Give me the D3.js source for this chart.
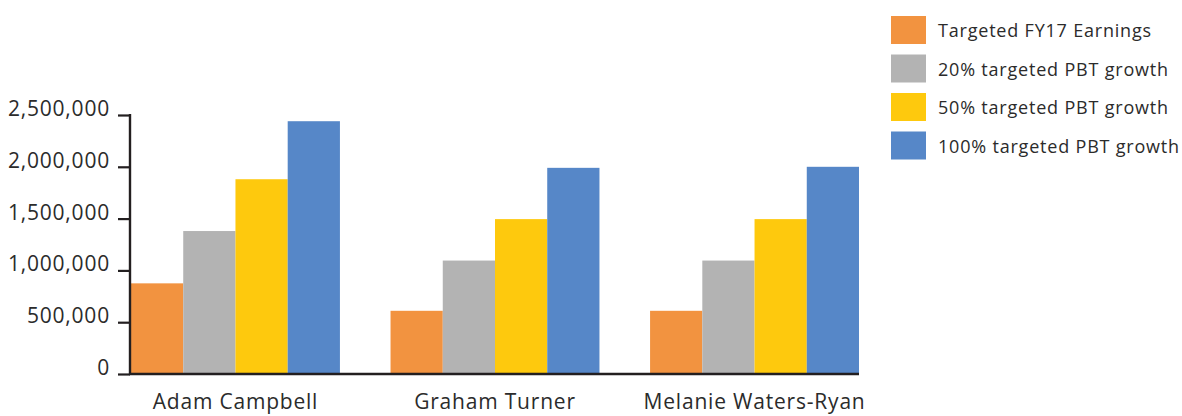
<!DOCTYPE html>
<html>
<head>
<meta charset="utf-8">
<script src="https://cdn.jsdelivr.net/npm/d3@7"></script>
<style>
  html, body { margin: 0; padding: 0; background: #fff; }
  svg { display: block; }
  text { font-family: "Open Sans", Lato, sans-serif; fill: #2b2b2b; }
</style>
</head>
<body>
<svg id="chart" width="1182" height="416"></svg>
<script>
// Team members and the earnings target series
const categories = ["Adam Campbell", "Graham Turner", "Melanie Waters-Ryan"];
const seriesNames = [
  "Targeted FY17 Earnings",
  "20% targeted PBT growth",
  "50% targeted PBT growth",
  "100% targeted PBT growth"
];
const targetedEarnings = [875000, 610000, 610000];
const growth20 = [1380000, 1095000, 1095000];
const growth50 = [1880000, 1495000, 1495000];
const growth100 = [2440000, 1990000, 2000000];
const yTicks = [0, 500000, 1000000, 1500000, 2000000, 2500000];
const colors = ["#F29340", "#B3B3B3", "#FEC90D", "#5687C8"];

const seriesValues = [targetedEarnings, growth20, growth50, growth100];
const rows = categories.map((c, i) => ({
  category: c,
  values: seriesNames.map((s, j) => ({ series: s, value: seriesValues[j][i] }))
}));

const svg = d3.select("#chart");
const plot = { left: 130, right: 859, top: 115, bottom: 374 };

const x0 = d3.scaleBand()
  .domain(categories)
  .range([131, plot.right])
  .paddingInner(0.195)
  .paddingOuter(0);

const x1 = d3.scaleBand()
  .domain(seriesNames)
  .range([0, x0.bandwidth()])
  .padding(0);

const y = d3.scaleLinear()
  .domain([0, 2500000])
  .range([plot.bottom, plot.top]);

const color = d3.scaleOrdinal().domain(seriesNames).range(colors);

// Bars
const groups = svg.append("g")
  .selectAll("g")
  .data(rows)
  .join("g")
  .attr("transform", d => `translate(${x0(d.category)},0)`);

groups.selectAll("rect")
  .data(d => d.values)
  .join("rect")
  .attr("x", d => x1(d.series))
  .attr("width", x1.bandwidth())
  .attr("y", d => y(d.value))
  .attr("height", d => y(0) - y(d.value))
  .attr("fill", d => color(d.series));

// Y axis
const yAxis = svg.append("g")
  .attr("transform", `translate(${plot.left},0)`)
  .call(d3.axisLeft(y)
    .tickValues(yTicks)
    .tickSize(12)
    .tickPadding(8)
    .tickFormat(d3.format(",")));
yAxis.select(".domain").remove();
yAxis.selectAll(".tick line").attr("stroke", "#231f20").attr("stroke-width", 2.2);
yAxis.selectAll(".tick text")
  .attr("font-size", 21)
  .attr("letter-spacing", "0.8px")
  .attr("dy", "0.02em")
  .attr("fill", "#2b2b2b");
yAxis.append("line")
  .attr("x1", 0).attr("x2", 0)
  .attr("y1", plot.top - 1).attr("y2", plot.bottom + 1)
  .attr("stroke", "#231f20").attr("stroke-width", 2.4);

// X axis
const xAxis = svg.append("g")
  .attr("transform", `translate(0,${plot.bottom})`)
  .call(d3.axisBottom(x0).tickSize(0).tickPadding(20));
xAxis.select(".domain").remove();
xAxis.append("line")
  .attr("x1", plot.left - 1).attr("x2", plot.right)
  .attr("y1", 0).attr("y2", 0)
  .attr("stroke", "#231f20").attr("stroke-width", 2.4);
xAxis.selectAll(".tick text")
  .attr("font-size", 21)
  .attr("letter-spacing", "0.8px")
  .attr("fill", "#2b2b2b");

// Legend
const legend = svg.append("g")
  .attr("transform", "translate(891,16)")
  .selectAll("g")
  .data(seriesNames)
  .join("g")
  .attr("transform", (d, i) => `translate(0,${i * 38.5})`);

legend.append("rect")
  .attr("width", 35)
  .attr("height", 28)
  .attr("fill", d => color(d));

legend.append("text")
  .attr("x", 47)
  .attr("y", 21)
  .attr("font-size", 18)
  .attr("letter-spacing", "0.8px")
  .text(d => d);
</script>
</body>
</html>
